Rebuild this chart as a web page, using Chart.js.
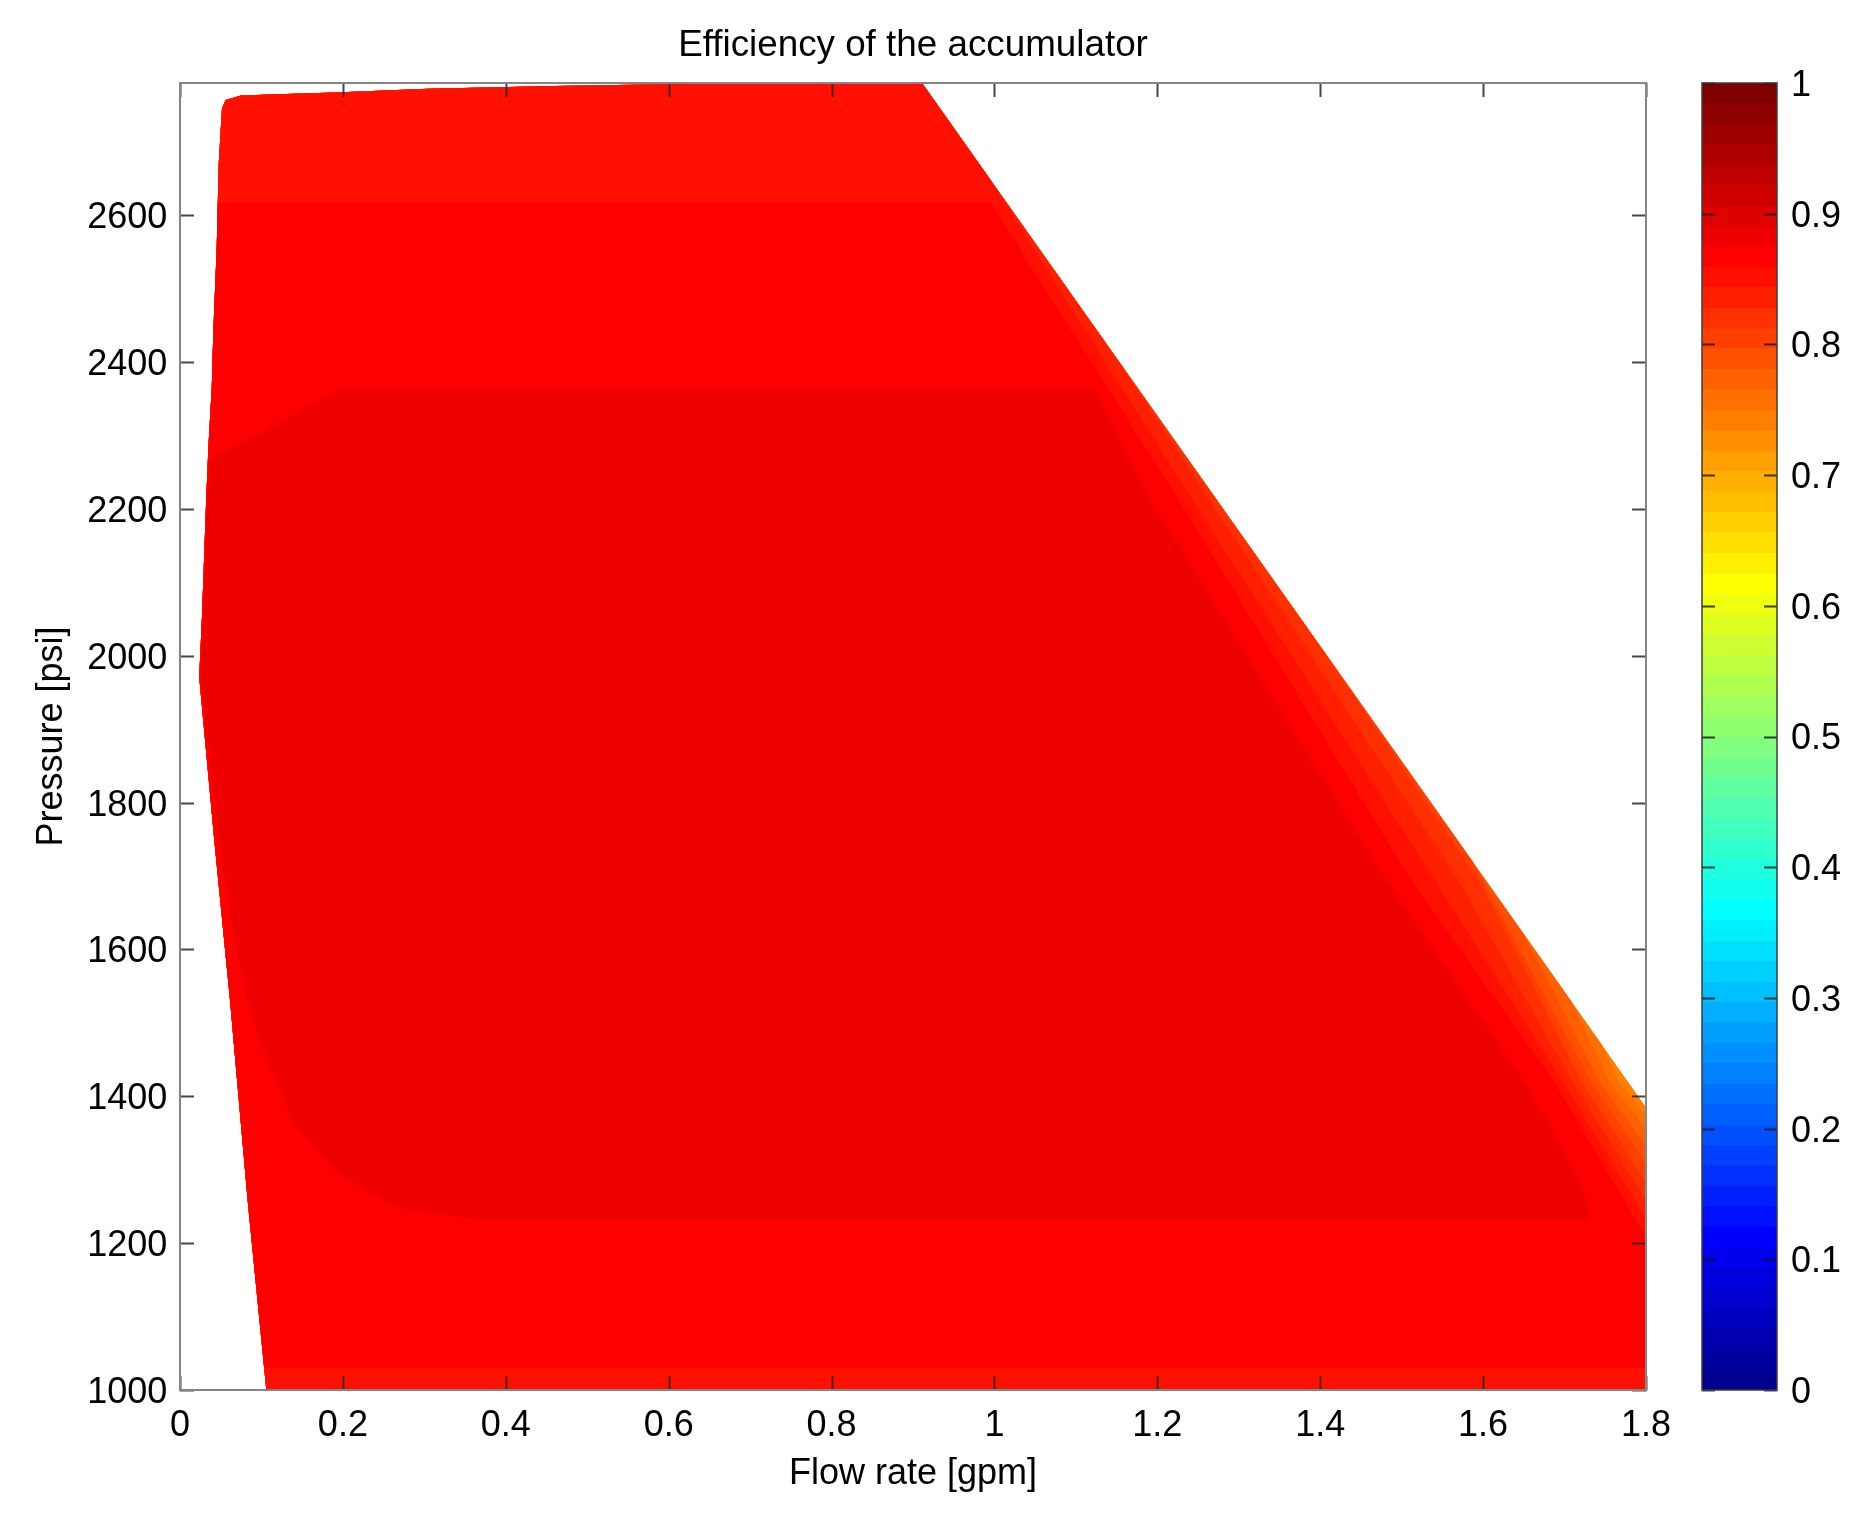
<!DOCTYPE html>
<html>
<head>
<meta charset="utf-8">
<title>Efficiency of the accumulator</title>
<script src="https://cdn.jsdelivr.net/npm/chart.js@4.4.1/dist/chart.umd.min.js"></script>
<style>
  html, body { margin: 0; padding: 0; background: #ffffff; overflow: hidden; }
  #wrap { position: relative; width: 1866px; height: 1513px; background: #ffffff; }
  canvas { position: absolute; top: 0; }
</style>
</head>
<body>
<div id="wrap">
  <canvas id="main" width="1866" height="1513" style="left:0;width:1866px;height:1513px"></canvas>
  <canvas id="cbar" width="176" height="1513" style="left:1690px;width:176px;height:1513px"></canvas>
</div>
<script>
// ---------------- DATA ----------------
// axis ticks
const xTicks = [0, 0.2, 0.4, 0.6, 0.8, 1, 1.2, 1.4, 1.6, 1.8];
const xTickLabels = ['0', '0.2', '0.4', '0.6', '0.8', '1', '1.2', '1.4', '1.6', '1.8'];
const yTicks = [1000, 1200, 1400, 1600, 1800, 2000, 2200, 2400, 2600];
const yTickLabels = ['1000', '1200', '1400', '1600', '1800', '2000', '2200', '2400', '2600'];
const cbTicks = [0, 0.1, 0.2, 0.3, 0.4, 0.5, 0.6, 0.7, 0.8, 0.9, 1];
const cbTickLabels = ['0', '0.1', '0.2', '0.3', '0.4', '0.5', '0.6', '0.7', '0.8', '0.9', '1'];
const xRange = [0, 1.8];
const yRange = [1000, 2780];
const colorbarRange = [0, 1];

// outer boundary of the computed domain: left edge (bottom -> top) then top edge (left -> right)
const edgeLeftX = [0.106, 0.083, 0.0614, 0.042, 0.0236, 0.027, 0.032, 0.035, 0.039, 0.041, 0.045, 0.0476, 0.0515, 0.056, 0.075, 0.13, 0.19, 0.305, 0.459, 0.574, 0.69, 0.911];
const edgeLeftY = [1000, 1259, 1531, 1750, 1971, 2053, 2208, 2287, 2365, 2444, 2553, 2671, 2745, 2757, 2763, 2765, 2767, 2772, 2776, 2778, 2780, 2780];
// outer diagonal edge (top -> right border)
const edgeDiagX = [0.911, 1.8];
const edgeDiagY = [2780, 1385];

// contour boundaries along the diagonal edge (from the edge to the right border)
const level1X = [0.994, 1.241, 1.543, 1.697, 1.8];
const level1Y = [2650, 2216, 1690, 1422, 1233];
const level2X = [1.153, 1.262, 1.572, 1.709, 1.8];
const level2Y = [2400, 2216, 1690, 1422, 1258];
const level3X = [1.408, 1.597, 1.720, 1.8];
const level3Y = [2000, 1690, 1422, 1283];
const level4X = [1.587, 1.731, 1.8];
const level4Y = [1720, 1422, 1308];
const level5X = [1.650, 1.742, 1.8];
const level5Y = [1620, 1422, 1333];
const level6X = [1.708, 1.754, 1.8];
const level6Y = [1530, 1422, 1355];
const level7X = [1.746, 1.765, 1.8];
const level7Y = [1470, 1422, 1375];

// efficiency ~0.86-0.875 region (pure red): bottom/top limits and right boundary
const redBottom = 1030;
const redTop = 2617;
const redRightX = [0.995, 1.224, 1.514, 1.686, 1.8];
const redRightY = [2617, 2216, 1690, 1422, 1208];
const redBottomLeftX = [1.8, 0.125];

// efficiency ~0.875-0.89 core region (dark red)
const coreX = [0.0368, 0.200, 1.121, 1.190, 1.484, 1.650, 1.712, 1.728, 1.731, 0.363, 0.266, 0.193, 0.139, 0.102, 0.082, 0.066, 0.052, 0.041, 0.026, 0.029, 0.034];
const coreY = [2267, 2365, 2365, 2216, 1690, 1422, 1300, 1255, 1232, 1232, 1248, 1296, 1364, 1463, 1531, 1620, 1720, 1820, 1966, 2053, 2208];

// ---------------- STYLE ----------------
const FONT = "'Liberation Sans', Arial, Helvetica, sans-serif";
const TEXT_COLOR = '#000000';

// MATLAB jet colormap (64 entries)
function jet(m) {
  const n = Math.ceil(m / 4);
  const u = [];
  for (let i = 1; i <= n; i++) u.push(i / n);
  for (let i = 0; i < n - 1; i++) u.push(1);
  for (let i = n; i >= 1; i--) u.push(i / n);
  const g0 = Math.ceil(n / 2) - (m % 4 === 1 ? 1 : 0);
  const J = Array.from({length: m}, () => [0, 0, 0]);
  u.forEach((v, k) => {
    const g = g0 + k + 1, r = g + n, b = g - n;
    if (r >= 1 && r <= m) J[r - 1][0] = v;
    if (g >= 1 && g <= m) J[g - 1][1] = v;
    if (b >= 1 && b <= m) J[b - 1][2] = v;
  });
  return J.map(c => 'rgb(' + Math.round(c[0] * 255) + ',' + Math.round(c[1] * 255) + ',' + Math.round(c[2] * 255) + ')');
}
const JET = jet(64);
const col = idx => JET[idx - 1];   // 1-based MATLAB index

// ---------------- BUILD SHAPES FROM THE DATA ----------------
const pts = (xs, ys) => xs.map((x, i) => ({x: x, y: ys[i]}));
const leftEdge = pts(edgeLeftX, edgeLeftY);

function edgeXAt(y) {        // x of the left edge at height y (edge y is non-decreasing)
  for (let i = 0; i < edgeLeftY.length - 1; i++) {
    const y0 = edgeLeftY[i], y1 = edgeLeftY[i + 1];
    if (y >= y0 && y <= y1 && y1 > y0) {
      return edgeLeftX[i] + (y - y0) / (y1 - y0) * (edgeLeftX[i + 1] - edgeLeftX[i]);
    }
  }
  return edgeLeftX[0];
}
function sliceEdge(lo, hi) {
  const out = [{x: edgeXAt(lo), y: lo}];
  leftEdge.forEach(p => { if (p.y > lo && p.y < hi) out.push(p); });
  out.push({x: edgeXAt(hi), y: hi});
  return out;
}
const corner = {x: xRange[1], y: yRange[0]};
const levelShape = (bx, by) => [...leftEdge, ...pts(bx, by), corner];

const domainShape = [...leftEdge, ...pts(edgeDiagX, edgeDiagY).slice(1), corner];
const redShape = [...sliceEdge(redBottom, redTop), ...pts(redRightX, redRightY),
                  ...pts(redBottomLeftX, [redBottom, redBottom])];
const coreShape = pts(coreX, coreY);

// innermost first (drawn last / on top)
const shapes = [
  {d: coreShape, c: col(57)},
  {d: redShape, c: col(56)},
  {d: levelShape(level1X, level1Y), c: col(55)},
  {d: levelShape(level2X, level2Y), c: col(54)},
  {d: levelShape(level3X, level3Y), c: col(53)},
  {d: levelShape(level4X, level4Y), c: col(52)},
  {d: levelShape(level5X, level5Y), c: col(51)},
  {d: levelShape(level6X, level6Y), c: col(50)},
  {d: levelShape(level7X, level7Y), c: col(49)},
  {d: domainShape, c: col(48)}
];
const datasets = shapes.map((s, i) => ({
  data: s.d,
  backgroundColor: s.c,
  borderColor: s.c,
  borderWidth: 0,
  pointRadius: 0,
  fill: 'shape',
  tension: 0,
  order: i
}));

// ---------------- PLUGINS (axis box + inward ticks) ----------------
const matlabBox = {
  id: 'matlabBox',
  afterDatasetsDraw(chart, args, o) {
    const {ctx, chartArea: a, scales} = chart;
    ctx.save();
    ctx.lineWidth = o.tickWidth;
    ctx.strokeStyle = o.tickColor;
    ctx.beginPath();
    if (o.xTicks) {
      scales.x.ticks.forEach(t => {
        const px = Math.round(scales.x.getPixelForValue(t.value)) + 0.5;
        ctx.moveTo(px, a.bottom); ctx.lineTo(px, a.bottom - o.len);
        ctx.moveTo(px, a.top); ctx.lineTo(px, a.top + o.len);
      });
    }
    scales.y.ticks.forEach(t => {
      const py = Math.round(scales.y.getPixelForValue(t.value)) + 0.5;
      ctx.moveTo(a.left, py); ctx.lineTo(a.left + o.len, py);
      ctx.moveTo(a.right, py); ctx.lineTo(a.right - o.len, py);
    });
    ctx.stroke();
    ctx.lineWidth = o.boxWidth;
    ctx.strokeStyle = o.boxColor;
    ctx.strokeRect(a.left, a.top, a.right - a.left, a.bottom - a.top);
    ctx.restore();
  }
};

const baseFont = {family: FONT, size: 36, weight: 'normal', lineHeight: 1.2};
const titleFont = {family: FONT, size: 36.8, weight: 'normal', lineHeight: 1.2};

// ---------------- MAIN CONTOUR CHART ----------------
new Chart(document.getElementById('main'), {
  type: 'line',
  data: {datasets: datasets},
  plugins: [matlabBox],
  options: {
    responsive: false,
    animation: false,
    events: [],
    layout: {padding: {left: 0, top: 0, right: 220, bottom: 0}},
    plugins: {
      legend: {display: false},
      tooltip: {enabled: false},
      title: {
        display: true,
        text: 'Efficiency of the accumulator',
        fullSize: false,
        color: TEXT_COLOR,
        font: titleFont,
        padding: {top: 23.4, bottom: 15.44}
      },
      matlabBox: {len: 14, tickWidth: 2, tickColor: 'rgba(40,40,40,0.85)', boxColor: '#858585', boxWidth: 2, xTicks: true}
    },
    scales: {
      x: {
        type: 'linear',
        position: 'bottom',
        min: xRange[0],
        max: xRange[1],
        grid: {display: false},
        border: {display: false},
        afterBuildTicks: s => { s.ticks = xTicks.map(v => ({value: v})); },
        afterFit: s => { s.height = 123; },
        ticks: {
          autoSkip: false, maxRotation: 0, minRotation: 0, padding: 6.5,
          color: TEXT_COLOR, font: baseFont,
          callback: (v, i) => xTickLabels[i]
        },
        title: {display: true, text: 'Flow rate [gpm]', color: TEXT_COLOR, font: baseFont, padding: {top: 0, bottom: 17.8}}
      },
      y: {
        type: 'linear',
        position: 'left',
        min: yRange[0],
        max: yRange[1],
        grid: {display: false},
        border: {display: false},
        afterBuildTicks: s => { s.ticks = yTicks.map(v => ({value: v})); },
        afterFit: s => { s.width = 180; },
        ticks: {
          autoSkip: false, padding: 4.7, labelOffset: 3,
          color: TEXT_COLOR, font: baseFont,
          callback: (v, i) => yTickLabels[i]
        },
        title: {display: true, text: 'Pressure [psi]', color: TEXT_COLOR, font: baseFont, padding: {top: 30.8, bottom: 0}}
      }
    }
  }
});

// ---------------- COLORBAR ----------------
function jetGradient(c) {
  const chart = c.chart;
  const a = chart.chartArea;
  if (!a) return JET[0];
  const g = chart.ctx.createLinearGradient(0, a.bottom, 0, a.top);
  const m = JET.length;
  for (let i = 0; i < m; i++) {
    g.addColorStop(i / m, JET[i]);
    g.addColorStop((i + 1) / m, JET[i]);
  }
  return g;
}

new Chart(document.getElementById('cbar'), {
  type: 'bar',
  data: {
    labels: [''],
    datasets: [{
      data: [colorbarRange],
      backgroundColor: jetGradient,
      borderWidth: 0,
      borderSkipped: false,
      barPercentage: 1,
      categoryPercentage: 1
    }]
  },
  plugins: [matlabBox],
  options: {
    responsive: false,
    animation: false,
    events: [],
    layout: {padding: {left: 12, top: 83, bottom: 123, right: 0}},
    plugins: {
      legend: {display: false},
      tooltip: {enabled: false},
      matlabBox: {len: 13, tickWidth: 2, tickColor: 'rgba(20,20,20,0.8)', boxColor: '#3c3c3c', boxWidth: 1.5, xTicks: false}
    },
    scales: {
      x: {display: false},
      y: {
        position: 'right',
        min: 0,
        max: 1,
        grid: {display: false},
        border: {display: false},
        afterBuildTicks: s => { s.ticks = cbTicks.map(v => ({value: v})); },
        afterFit: s => { s.width = 89; },
        ticks: {
          autoSkip: false, padding: 6, labelOffset: 3,
          color: TEXT_COLOR, font: baseFont,
          callback: (v, i) => cbTickLabels[i]
        }
      }
    }
  }
});
</script>
</body>
</html>
